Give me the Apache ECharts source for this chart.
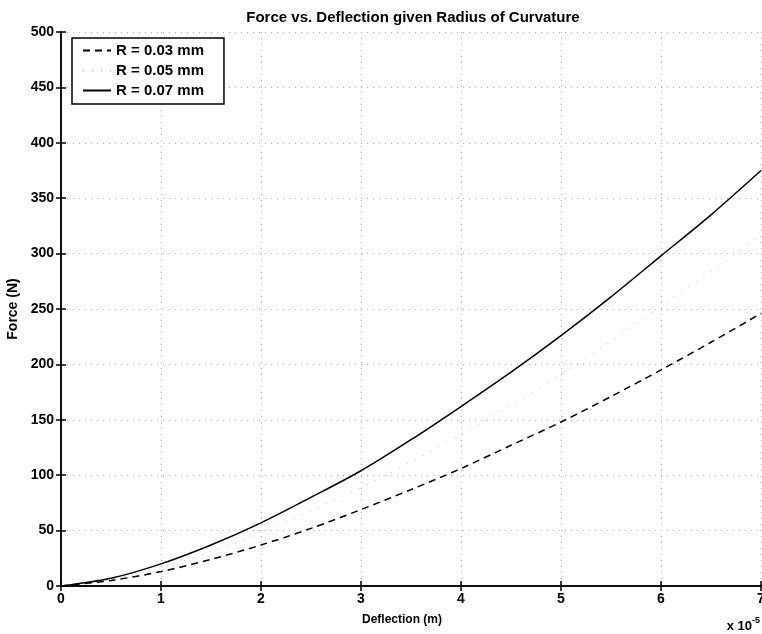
<!DOCTYPE html>
<html>
<head>
<meta charset="utf-8">
<script src="https://cdn.jsdelivr.net/npm/echarts@6/dist/echarts.min.js"></script>
<style>
  html, body { margin: 0; padding: 0; background: #fff; }
  #chart { width: 762px; height: 634px; }
</style>
</head>
<body>
<div id="chart"></div>
<script>
// deflection in units of 1e-5 m
const deflection = [0, 0.5, 1, 1.5, 2, 2.5, 3, 3.5, 4, 4.5, 5, 5.5, 6, 6.5, 7];
const forceR03 = [0, 5, 13, 24, 37, 52, 69, 87, 106, 127, 148, 171, 195, 220, 246];
const forceR05 = [0, 6, 17, 31, 48, 68, 89, 112, 137, 163, 191, 221, 252, 284, 317];
const forceR07 = [0, 7, 20, 37, 57, 80, 104, 132, 162, 193, 226, 261, 298, 335, 375];
const seriesNames = ['R = 0.03 mm', 'R = 0.05 mm', 'R = 0.07 mm'];

const font = 'Liberation Sans, Arial, sans-serif';

function pairs(ys) {
    return deflection.map((x, i) => [x, ys[i]]);
}

let chart = echarts.init(document.getElementById('chart'));

let axisCommon = {
    type: 'value',
    axisLine: { show: true, lineStyle: { color: '#000', width: 1.5 } },
    axisTick: { show: true, inside: true, length: 5, lineStyle: { color: '#000', width: 1.5 } },
};
let gridLine = { show: true, lineStyle: { type: [1, 5], color: '#aaa', width: 1 } };
let tickFont = { fontFamily: font, fontSize: 14, fontWeight: 'bold', color: '#000' };

let option = {
    backgroundColor: '#fff',
    animation: false,
    title: {
        text: 'Force vs. Deflection given Radius of Curvature',
        left: 408, textAlign: 'center', top: 5,
        textStyle: { fontFamily: font, fontSize: 15, fontWeight: 'bold', color: '#000' }
    },
    legend: {
        orient: 'vertical',
        left: 72, top: 38,
        itemWidth: 28, itemHeight: 14, itemGap: 5,
        padding: [5, 20, 6, 10],
        borderColor: '#000', borderWidth: 1.5,
        backgroundColor: '#fff',
        itemStyle: { opacity: 0 },
        textStyle: { fontFamily: font, fontSize: 15, fontWeight: 'bold', color: '#000' },
        data: seriesNames
    },
    grid: { left: 61, right: 1, top: 32, bottom: 48, outerBoundsMode: 'none' },
    xAxis: [
        Object.assign({}, axisCommon, {
            min: 0, max: 7, interval: 1,
            name: 'Deflection (m)', nameLocation: 'middle', nameGap: 28,
            nameTextStyle: { fontFamily: font, fontSize: 12, fontWeight: 'bold', color: '#000', padding: [0, 18, 0, 0] },
            axisLabel: Object.assign({ margin: 6 }, tickFont),
            splitLine: gridLine
        }),
        Object.assign({}, axisCommon, {
            position: 'top', min: 0, max: 7, interval: 1,
            axisLabel: { show: false }, splitLine: { show: false }
        })
    ],
    yAxis: [
        Object.assign({}, axisCommon, {
            min: 0, max: 500, interval: 50,
            name: 'Force (N)', nameLocation: 'middle', nameGap: 33,
            nameTextStyle: { fontFamily: font, fontSize: 14, fontWeight: 'bold', color: '#000' },
            axisLabel: Object.assign({ margin: 7 }, tickFont),
            splitLine: gridLine
        }),
        Object.assign({}, axisCommon, {
            position: 'right', min: 0, max: 500, interval: 50,
            axisLabel: { show: false }, splitLine: { show: false }
        })
    ],
    graphic: [{
        type: 'text',
        right: 2, top: 616,
        style: {
            text: '{b|x 10}{s|-5}',
            rich: {
                b: { fontFamily: font, fontSize: 13, fontWeight: 'bold', fill: '#000', padding: [6, 0, 0, 0] },
                s: { fontFamily: font, fontSize: 9, fontWeight: 'bold', fill: '#000', padding: [0, 0, 6, 0] }
            }
        }
    }],
    series: [
        {
            name: seriesNames[0], type: 'line', smooth: 0.3, symbol: 'none',
            lineStyle: { color: '#000', width: 1.5, type: [7, 5] },
            itemStyle: { color: '#000' },
            data: pairs(forceR03)
        },
        {
            name: seriesNames[1], type: 'line', smooth: 0.3, symbol: 'none',
            lineStyle: { color: '#bbb', width: 1, type: [1, 8] },
            itemStyle: { color: '#bbb' },
            data: pairs(forceR05)
        },
        {
            name: seriesNames[2], type: 'line', smooth: 0.3, symbol: 'none',
            lineStyle: { color: '#000', width: 1.5 },
            itemStyle: { color: '#000' },
            data: pairs(forceR07)
        }
    ]
};

chart.setOption(option);
</script>
</body>
</html>
